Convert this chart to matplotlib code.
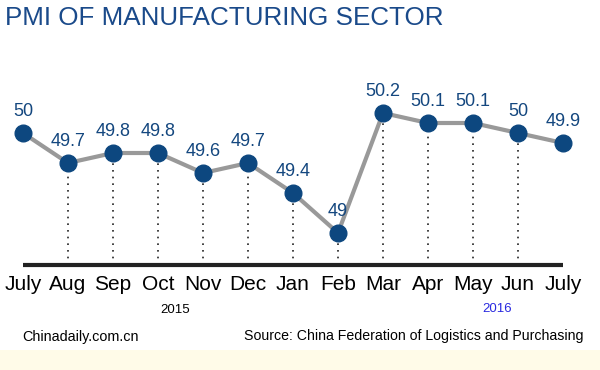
import matplotlib.pyplot as plt
from matplotlib.patches import Rectangle

plt.rcParams['font.family'] = ['Liberation Sans', 'DejaVu Sans']

months = ['July', 'Aug', 'Sep', 'Oct', 'Nov', 'Dec', 'Jan', 'Feb',
          'Mar', 'Apr', 'May', 'Jun', 'July']
pmi = [50, 49.7, 49.8, 49.8, 49.6, 49.7, 49.4, 49, 50.2, 50.1, 50.1, 50, 49.9]
value_labels = ['50', '49.7', '49.8', '49.8', '49.6', '49.7', '49.4', '49',
                '50.2', '50.1', '50.1', '50', '49.9']

W, H = 600, 370
fig = plt.figure(figsize=(W / 100, H / 100), dpi=100)
fig.patch.set_facecolor('white')
ax = fig.add_axes([0, 0, 1, 1])
ax.axis('off')

# pixel mapping: x step 45px starting at 23px, y 100px per PMI unit, 50 -> 133px from top
x0, dx = 23, 45
ax.set_xlim(-x0 / dx, (W - x0) / dx)
ax.set_ylim(50 - (H - 133) / 100, 50 + 133 / 100)

base = 50 - (265 - 133) / 100
xs = list(range(len(pmi)))

# cream band at bottom
fig.patches.append(Rectangle((0, 0), 1, 20 / H, transform=fig.transFigure,
                             facecolor='#fffbe8', edgecolor='none', zorder=0))

ax.plot([xs[0], xs[-1]], [base, base], color='#222222', lw=3, solid_capstyle='butt', zorder=2)
ax.vlines(xs[1:-1], base, pmi[1:-1], colors='#222222', linestyles=(0, (1, 3)), lw=1.2, zorder=1)
ax.plot(xs, pmi, color='#999999', lw=3, zorder=3)
ax.plot(xs, pmi, 'o', color='#0d477f', markersize=12, zorder=4)

for x, v, lab in zip(xs, pmi, value_labels):
    ax.annotate(lab, (x, v), xytext=(0, 9), textcoords='offset points',
                ha='center', va='bottom', fontsize=13, color='#14477f')

for x, m in zip(xs, months):
    ax.text(x, base - 0.2, m, ha='center', va='center', fontsize=15, color='black')

fig.text(5 / W, 1 - 18 / H, 'PMI OF MANUFACTURING SECTOR', ha='left', va='center',
         fontsize=18.7, color='#1a4a8a')
fig.text(175 / W, 1 - 310 / H, '2015', ha='center', va='center', fontsize=9.5, color='black')
fig.text(497 / W, 1 - 309 / H, '2016', ha='center', va='center', fontsize=9.5, color='#2a2ae0')
fig.text(22 / W, 1 - 337 / H, 'Chinadaily.com.cn', ha='left', va='center', fontsize=10.4, color='black')
fig.text(583 / W, 1 - 336 / H, 'Source: China Federation of Logistics and Purchasing',
         ha='right', va='center', fontsize=10.2, color='black')

plt.savefig('out.png', dpi=100)
